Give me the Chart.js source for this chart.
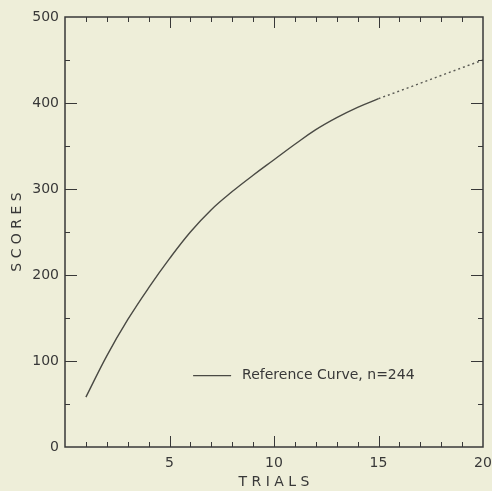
<!DOCTYPE html>
<html>
<head>
<meta charset="utf-8">
<script src="https://cdn.jsdelivr.net/npm/chart.js@4"></script>
<style>
  html, body { margin: 0; padding: 0; background: #eeeed9; }
  #wrap { width: 492px; height: 491px; }
</style>
</head>
<body>
<div id="wrap"><canvas id="c" width="492" height="491"></canvas></div>
<script>
// ---- data ----
const trials = [1, 2, 3, 4, 5, 6, 7, 8, 9, 10, 11, 12, 13, 14, 15];
const scores = [58, 106, 148, 185, 219, 250, 276, 297, 316, 334, 352, 369, 383, 395, 405];
const extTrials = [15, 16, 17, 18, 19, 20];
const extScores = [405, 414, 423, 432, 441, 450];
const seriesLabel = 'Reference Curve, n=244';
const xTitle = 'T R I A L S';
const yTitle = 'S C O R E S';
const xRange = [0, 20];
const yRange = [0, 500];
const xMajor = 5, xMinor = 1;
const yMajor = 100, yMinor = 50;

const ink = '#383838';
const font = 'DejaVu Sans';

const bgPlugin = {
  id: 'bg',
  beforeDraw(chart) {
    const { ctx, width, height } = chart;
    ctx.save();
    ctx.fillStyle = '#eeeed9';
    ctx.fillRect(0, 0, width, height);
    ctx.restore();
  }
};

const framePlugin = {
  id: 'frame',
  afterDatasetsDraw(chart) {
    const { ctx, chartArea: { left, right, top, bottom }, scales: { x, y } } = chart;
    ctx.save();
    ctx.strokeStyle = ink;
    ctx.lineWidth = 1.5;
    ctx.strokeRect(left, top, right - left, bottom - top);
    ctx.lineWidth = 1;
    ctx.beginPath();
    for (let v = xRange[0] + xMinor; v < xRange[1]; v += xMinor) {
      const px = Math.round(x.getPixelForValue(v)) + 0.5;
      const len = (v % xMajor === 0) ? 11 : 5;
      ctx.moveTo(px, bottom); ctx.lineTo(px, bottom - len);
      ctx.moveTo(px, top); ctx.lineTo(px, top + len);
    }
    for (let v = yRange[0] + yMinor; v < yRange[1]; v += yMinor) {
      const py = Math.round(y.getPixelForValue(v)) + 0.5;
      const len = (v % yMajor === 0) ? 12 : 5;
      ctx.moveTo(left, py); ctx.lineTo(left + len, py);
      ctx.moveTo(right, py); ctx.lineTo(right - len, py);
    }
    ctx.stroke();

    // legend inside plot
    const ds = chart.data.datasets[0];
    const lx = x.getPixelForValue(6.13), ly = y.getPixelForValue(83);
    ctx.strokeStyle = ds.borderColor;
    ctx.lineWidth = 1.3;
    ctx.beginPath();
    ctx.moveTo(lx, ly); ctx.lineTo(lx + 38, ly);
    ctx.stroke();
    ctx.fillStyle = ink;
    ctx.font = '14px "' + font + '"';
    ctx.textBaseline = 'middle';
    ctx.textAlign = 'left';
    ctx.fillText(ds.label, lx + 49, ly);
    ctx.restore();
  }
};

new Chart(document.getElementById('c'), {
  type: 'line',
  data: {
    datasets: [
      {
        label: seriesLabel,
        data: trials.map((t, i) => ({ x: t, y: scores[i] })),
        borderColor: '#4a4a44',
        borderWidth: 1.4,
        pointRadius: 0,
        tension: 0.4,
        fill: false
      },
      {
        label: 'extrapolated',
        data: extTrials.map((t, i) => ({ x: t, y: extScores[i] })),
        borderColor: '#5a5a54',
        borderWidth: 1.4,
        borderDash: [2, 3],
        pointRadius: 0,
        fill: false
      }
    ]
  },
  options: {
    responsive: false,
    animation: false,
    devicePixelRatio: 1,
    layout: { padding: { top: 17, right: 9, left: 0, bottom: 0 } },
    plugins: { legend: { display: false }, tooltip: { enabled: false } },
    scales: {
      x: {
        type: 'linear',
        min: xRange[0], max: xRange[1],
        afterFit(s) { s.height = 44; s.paddingLeft = 0; s.paddingRight = 0; },
        grid: { display: false, drawTicks: false },
        border: { display: false },
        ticks: {
          stepSize: xMajor,
          padding: 8,
          color: ink,
          font: { family: font, size: 14 },
          callback: v => (v === 0 ? '' : v)
        },
        title: {
          display: true, text: xTitle, color: ink,
          font: { family: font, size: 14 },
          padding: { top: 0, bottom: 0 }
        }
      },
      y: {
        type: 'linear',
        min: yRange[0], max: yRange[1],
        afterFit(s) { s.width = 65; s.paddingTop = 0; s.paddingBottom = 0; },
        grid: { display: false, drawTicks: false },
        border: { display: false },
        ticks: {
          stepSize: yMajor,
          padding: 6,
          color: ink,
          font: { family: font, size: 14 }
        },
        title: {
          display: true, text: yTitle, color: ink,
          font: { family: font, size: 14 },
          padding: { top: 9, bottom: 0 }
        }
      }
    }
  },
  plugins: [bgPlugin, framePlugin]
});
</script>
</body>
</html>
